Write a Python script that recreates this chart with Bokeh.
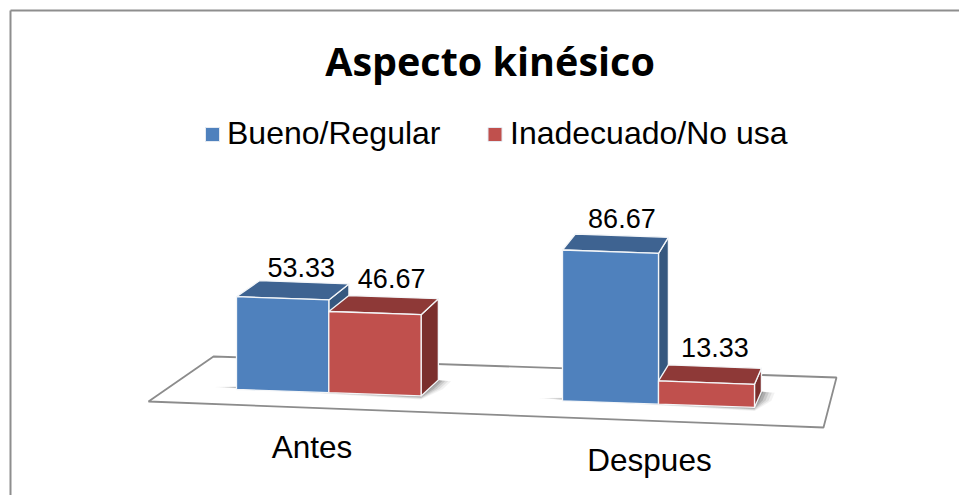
from bokeh.plotting import figure
from bokeh.models import Range1d
from bokeh.embed import file_html
from bokeh.resources import INLINE
from bokeh.core.properties import value

# ---- data ----
title_text = "Aspecto kinésico"
categories = ["Antes", "Despues"]
series_names = ["Bueno/Regular", "Inadecuado/No usa"]
bueno = [53.33, 86.67]
inadecuado = [46.67, 13.33]

# ---- styles ----
FRONT = ["#4F81BD", "#C0504D"]
TOP = ["#3E6391", "#8E3937"]
SIDE = ["#36587F", "#7B2F2D"]
FLOOR_LINE = "#8C8C8C"
FRAME_LINE = "#8E8E8E"

# ---- projection (oblique 3D -> page coordinates) ----
group_left = [236.0, 562.0]
bar_width = [92.3, 96.0]
label_gap = [[15, 19], [17, 19]]
label_dx = [[-3, -2], [0, 0]]
PX_PER_UNIT = 1.74
BASE_Y0, BASE_X0, BASE_SLOPE = 389.0, 236.0, 0.0347
DEPTH_Y = 16.0
VANISH_X, DEPTH_K = 977.0, 0.031


def project(x, v=0.0, d=0.0):
    """x along the floor's front edge, v value height, d depth 0..1"""
    y = BASE_Y0 + BASE_SLOPE * (x - BASE_X0) - PX_PER_UNIT * v
    return x + d * DEPTH_K * (VANISH_X - x), y - d * DEPTH_Y


def poly(*pts):
    return [p[0] for p in pts], [p[1] for p in pts]


p = figure(width=959, height=495, output_backend="svg", toolbar_location=None,
           x_range=Range1d(0, 959), y_range=Range1d(495, 0),
           x_axis_type=None, y_axis_type=None, min_border=0,
           outline_line_color=None, background_fill_color="white",
           border_fill_color="white")
p.grid.visible = False

# chart frame (its right and bottom edges lie outside the picture)
p.line([10, 10], [495, 10], line_color=FRAME_LINE, line_width=2)
p.line([10, 959], [10, 10], line_color=FRAME_LINE, line_width=2)

# floor
fx = [148, 213, 836, 823, 148]
fy = [401, 356, 377, 427, 401]
p.patch(fx, fy, fill_color="white", line_color=FLOOR_LINE, line_width=1.8)

series = [bueno, inadecuado]
for g, cat in enumerate(categories):
    left = group_left[g]
    w = bar_width[g]
    # soft shadow on the floor
    x_end = left + 2 * w
    for grow, alpha in ((14, 0.07), (11, 0.1), (8, 0.14), (5, 0.2), (2, 0.25)):
        a = project(left - grow * 1.8, 0, 0.1)
        b = project(x_end, 0, 0)
        b = (b[0], b[1] + grow * 0.25)
        c = project(x_end + grow, 0, 0.45)
        d = project(x_end + grow, 0, 0.95)
        e = project(x_end, 0, 1)
        xs, ys = poly(a, b, c, d, e)
        p.patch(xs, ys, fill_color="#404040", fill_alpha=alpha, line_color=None)

    for s, vals in enumerate(series):
        v = vals[g]
        x0 = left + s * w
        x1 = x0 + w
        top = poly(project(x0, v), project(x1, v), project(x1, v, 1), project(x0, v, 1))
        side = poly(project(x1, 0), project(x1, v), project(x1, v, 1), project(x1, 0, 1))
        front = poly(project(x0, 0), project(x1, 0), project(x1, v), project(x0, v))
        for (xs, ys), col in ((side, SIDE[s]), (top, TOP[s]), (front, FRONT[s])):
            p.patch(xs, ys, fill_color=col, line_color="#F4F6F8", line_width=1.3,
                    line_join="round")
        # data label, centred over the back edge of the top face
        lx, ly = project((x0 + x1) / 2, v, 1)
        p.text([lx + label_dx[g][s]], [ly - label_gap[g][s]], text=[f"{v:.2f}"],
               text_font=value("Liberation Sans"),
               text_font_size="27px", text_align="center", text_baseline="middle",
               text_color="black")

# category labels
cat_x = [311.5, 649]
cat_y = [446, 459]
p.text(cat_x, cat_y, text=categories, text_font=value("Liberation Sans"),
       text_font_size="31.5px", text_align="center", text_baseline="middle", text_color="black")

# title
p.text([489.5], [60], text=[title_text], text_font=value("Open Sans"), text_font_style="bold",
       text_font_size="39.5px", text_align="center", text_baseline="middle", text_color="black")

# legend
leg_sw = [205, 487.5]
leg_tx = [226.5, 509.5]
for i, name in enumerate(series_names):
    p.quad(left=[leg_sw[i]], right=[leg_sw[i] + 14], top=[127], bottom=[141],
           fill_color=FRONT[i], line_color="#E4EAF2", line_width=1)
    p.text([leg_tx[i]], [132], text=[name], text_font=value("Liberation Sans"),
           text_font_size="32px", text_align="left", text_baseline="middle", text_color="black")

open("out.html", "w").write(file_html(p, INLINE))
